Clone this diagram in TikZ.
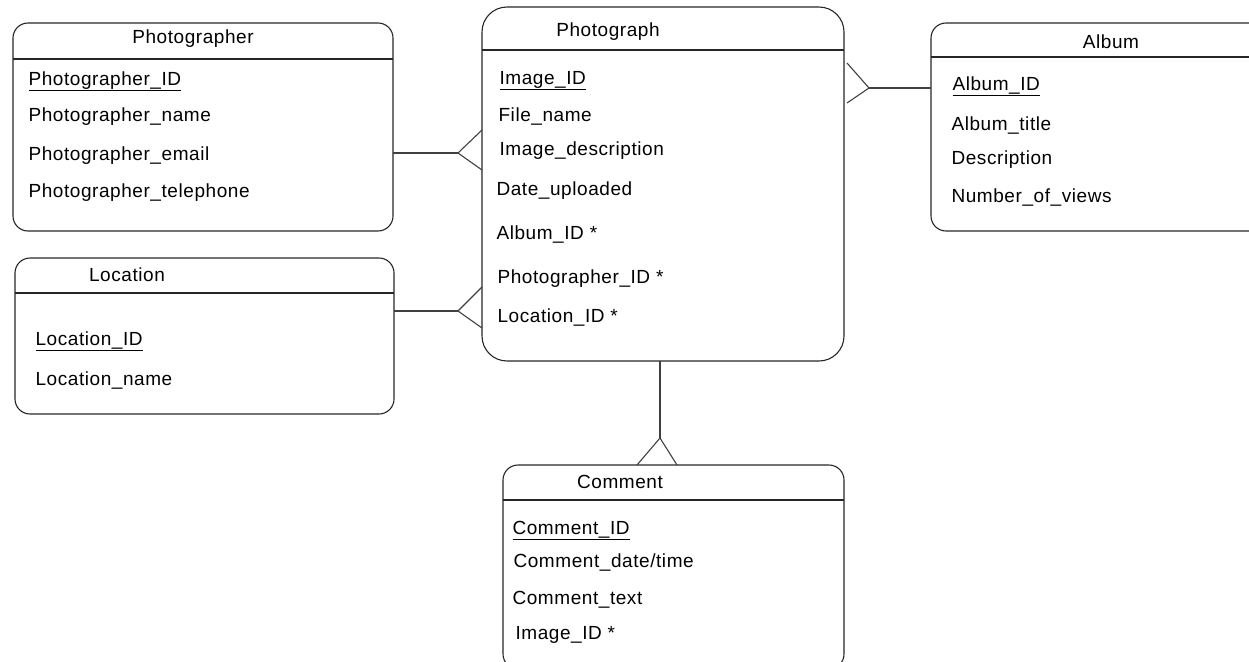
\documentclass[tikz,border=0pt]{standalone}
\usepackage{fontspec}
\setmainfont{Liberation Sans}[LetterSpace=3]
\usepackage{tikz}
\usetikzlibrary{shapes,calc}
\usetikzlibrary{positioning}
\tikzset{
every picture/.style={
line width=1.1pt
}}
\tikzset{
  entity/.style={
    draw=black!85,
    rectangle,
    rounded corners=#1,
    outer sep=0pt,
    inner sep=0pt
  },
  entity/.default=15pt,
  etitle/.style={inner sep=0pt, font=\fontsize{19}{23}\selectfont},
  attr/.style={anchor=base west, inner sep=0pt, font=\fontsize{19}{23}\selectfont},
  crow/.style={draw=black!75, line width=1.1pt}
}

\begin{document}
\begin{tikzpicture}[x=1pt,y=-1pt]
  \useasboundingbox (0,0) rectangle (1249,661);
  \clip (0,0) rectangle (1249,661);

  % entities
  \node [entity, minimum width=380pt, minimum height=208pt] (photographer) at (203,127) {};
  \node [entity=25pt, minimum width=362pt, minimum height=354pt] (photograph) at (663,184) {};
  \node [entity, minimum width=340pt, minimum height=208pt] (album) at (1101,127) {};
  \node [entity, minimum width=379pt, minimum height=156pt] (location) at (204.5,336) {};
  \node [entity, minimum width=341pt, minimum height=204pt] (comment) at (673.5,567) {};

  \draw [draw=black!85] (photographer.west |- 0,59) -- (photographer.east |- 0,59);
  \draw [draw=black!85] (photograph.west |- 0,50) -- (photograph.east |- 0,50);
  \draw [draw=black!85] (album.west |- 0,57) -- (album.east |- 0,57);
  \draw [draw=black!85] (location.west |- 0,293) -- (location.east |- 0,293);
  \draw [draw=black!85] (comment.west |- 0,500) -- (comment.east |- 0,500);

  \node [etitle] (photographer-title) at (193,39) {Photographer};
  \node [etitle] (photograph-title) at (608,32) {Photograph};
  \node [etitle] (album-title) at (1111,42) {Album};
  \node [etitle] (location-title) at (127,275) {Location};
  \node [etitle] (comment-title) at (620,482) {Comment};

  % attributes
  \node [attr] (pg-id) at (28,85) {\underline{Photographer\_ID}};
  \node [attr] (pg-name) at (28,121) {Photographer\_name};
  \node [attr] (pg-email) at (28,160) {Photographer\_email};
  \node [attr] (pg-tel) at (28,197) {Photographer\_telephone};

  \node [attr] (ph-id) at (499,84) {\underline{Image\_ID}};
  \node [attr] (ph-file) at (498,121) {File\_name};
  \node [attr] (ph-desc) at (499,155) {Image\_description};
  \node [attr] (ph-date) at (496,195) {Date\_uploaded};
  \node [attr] (ph-album) at (496,239) {Album\_ID *};
  \node [attr] (ph-pg) at (497,283) {Photographer\_ID *};
  \node [attr] (ph-loc) at (497,322) {Location\_ID *};

  \node [attr] (al-id) at (952,90) {\underline{Album\_ID}};
  \node [attr] (al-title) at (951,130) {Album\_title};
  \node [attr] (al-desc) at (951,164) {Description};
  \node [attr] (al-views) at (951,202) {Number\_of\_views};

  \node [attr] (lo-id) at (35,345) {\underline{Location\_ID}};
  \node [attr] (lo-name) at (35,385) {Location\_name};

  \node [attr] (co-id) at (512,534) {\underline{Comment\_ID}};
  \node [attr] (co-date) at (513,567) {Comment\_date/time};
  \node [attr] (co-text) at (512,604) {Comment\_text};
  \node [attr] (co-img) at (515,639) {Image\_ID *};

  % relationships (crow's feet on the many side)
  \coordinate (cf-pg) at (458,153);
  \coordinate (cf-lo) at (458,311);
  \coordinate (cf-al) at (869,88);
  \coordinate (cf-co) at (660,438);

  \draw [crow] (photographer.east |- cf-pg) -- (cf-pg);
  \draw [crow] (photograph.west |- 0,130) -- (cf-pg) -- (photograph.west |- 0,170);

  \draw [crow] (location.east |- cf-lo) -- (cf-lo);
  \draw [crow] (photograph.west |- 0,287) -- (cf-lo) -- (photograph.west |- 0,328);

  \draw [crow] (album.west |- cf-al) -- (cf-al);
  \draw [crow] (847,63) -- (cf-al) -- (847,103);

  \draw [crow] (photograph.south -| cf-co) -- (cf-co);
  \draw [crow] (comment.north -| 637,0) -- (cf-co) -- (comment.north -| 677,0);
\end{tikzpicture}
\end{document}
